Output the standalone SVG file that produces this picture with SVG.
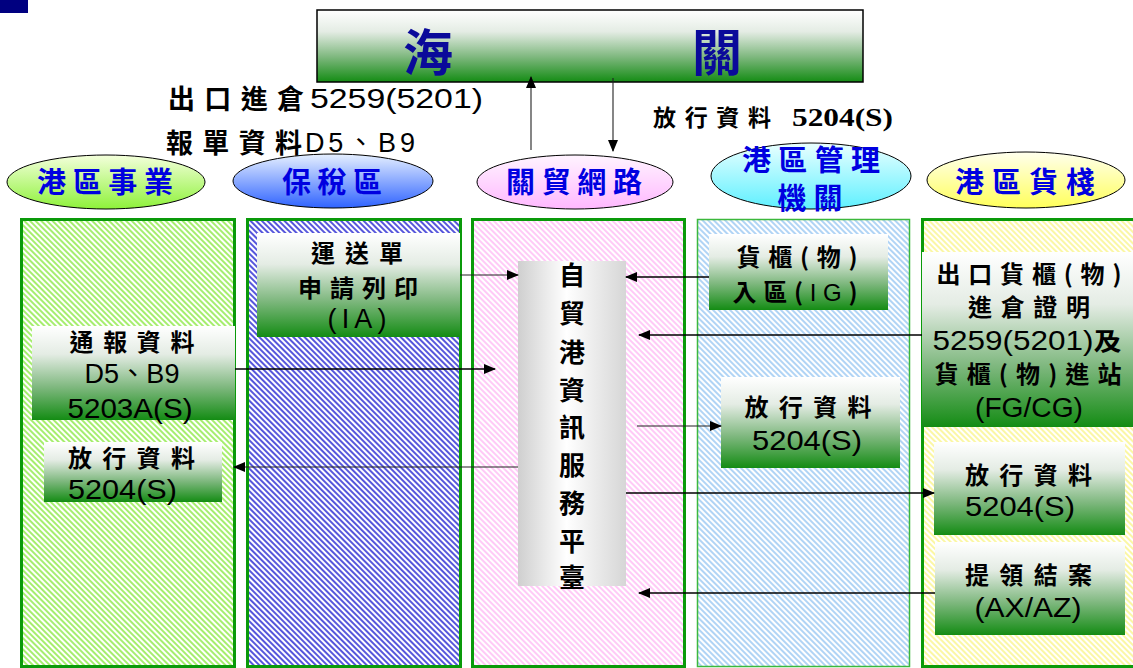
<svg xmlns="http://www.w3.org/2000/svg" width="1133" height="668" viewBox="0 0 1133 668">
<style>
.zh{font-family:"Noto Sans CJK TC","Noto Sans CJK SC",sans-serif;font-weight:700;fill:#000}
.bx{font-family:"Noto Sans CJK TC","Noto Sans CJK SC",sans-serif;font-weight:700;font-size:24px;fill:#000}
.num{font-family:"Liberation Sans","Noto Sans CJK TC",sans-serif;font-weight:400;font-size:27px;fill:#000}
.el{font-family:"Noto Sans CJK TC","Noto Sans CJK SC",sans-serif;font-weight:700;font-size:29px;fill:#0000e0}
.ttl{font-family:"Noto Sans CJK TC","Noto Sans CJK SC",sans-serif;font-weight:700;font-size:50px;fill:#0a0a9a}
.c{stroke:#000;stroke-width:1.6;fill:none}
.ct{stroke:#222;stroke-width:1.1;fill:none}
</style>
<defs>
<linearGradient id="gb" x1="0" y1="0" x2="0" y2="1">
<stop offset="0" stop-color="#ffffff"/><stop offset="0.3" stop-color="#e4ece4"/><stop offset="0.65" stop-color="#7fb87f"/><stop offset="1" stop-color="#148c14"/>
</linearGradient>
<linearGradient id="gp" x1="0" y1="0" x2="1" y2="0">
<stop offset="0" stop-color="#cfcfcf"/><stop offset="0.45" stop-color="#ffffff"/><stop offset="1" stop-color="#d6d6d6"/>
</linearGradient>
<linearGradient id="e1" x1="0" y1="0" x2="0" y2="1"><stop offset="0" stop-color="#f4ffdc"/><stop offset="1" stop-color="#8ef23a"/></linearGradient>
<linearGradient id="e2" x1="0" y1="0" x2="0" y2="1"><stop offset="0" stop-color="#e6f0ff"/><stop offset="1" stop-color="#2f63ff"/></linearGradient>
<linearGradient id="e3" x1="0" y1="0" x2="0" y2="1"><stop offset="0" stop-color="#fff4ff"/><stop offset="1" stop-color="#ffb8ff"/></linearGradient>
<linearGradient id="e4" x1="0" y1="0" x2="0" y2="1"><stop offset="0" stop-color="#eaffff"/><stop offset="1" stop-color="#5ef0ff"/></linearGradient>
<linearGradient id="e5" x1="0" y1="0" x2="0" y2="1"><stop offset="0" stop-color="#ffffee"/><stop offset="1" stop-color="#ffff5a"/></linearGradient>
<pattern id="h1" width="4" height="4" patternUnits="userSpaceOnUse" patternTransform="rotate(-45)"><rect width="4" height="4" fill="#fff"/><line x1="1" y1="0" x2="1" y2="4" stroke="#a6ee6e" stroke-width="2"/></pattern>
<pattern id="h2" width="4" height="4" patternUnits="userSpaceOnUse" patternTransform="rotate(-45)"><rect width="4" height="4" fill="#fff"/><line x1="1" y1="0" x2="1" y2="4" stroke="#4444d8" stroke-width="1.8"/></pattern>
<pattern id="h3" width="4" height="4" patternUnits="userSpaceOnUse" patternTransform="rotate(-45)"><rect width="4" height="4" fill="#fff"/><line x1="1" y1="0" x2="1" y2="4" stroke="#ffbdf5" stroke-width="1.6"/></pattern>
<pattern id="h4" width="4" height="4" patternUnits="userSpaceOnUse" patternTransform="rotate(-45)"><rect width="4" height="4" fill="#fff"/><line x1="1" y1="0" x2="1" y2="4" stroke="#a8d0f4" stroke-width="1.8"/></pattern>
<pattern id="h5" width="4" height="4" patternUnits="userSpaceOnUse" patternTransform="rotate(-45)"><rect width="4" height="4" fill="#fff"/><line x1="1" y1="0" x2="1" y2="4" stroke="#fbf79a" stroke-width="1.8"/></pattern>
<marker id="ah" markerWidth="12" markerHeight="10" refX="11" refY="5" orient="auto" markerUnits="userSpaceOnUse"><path d="M0,0 L12,5 L0,10 Z" fill="#000"/></marker>
</defs>

<rect x="0" y="0" width="28" height="13" fill="#000080"/>

<g id="customs">
<rect x="317" y="10" width="546" height="72" fill="url(#gb)" stroke="#000" stroke-width="1.5"/>
<text class="ttl" x="403" y="71">海</text>
<text class="ttl" x="692" y="71">關</text>
</g>

<g id="labels-top">
<text class="zh" x="168" y="109" font-size="27" textLength="136" lengthAdjust="spacing">出口進倉</text>
<text class="num" x="310" y="108" font-size="28" textLength="173" lengthAdjust="spacingAndGlyphs">5259(5201)</text>
<text class="zh" x="166" y="153" font-size="27" textLength="136" lengthAdjust="spacing">報單資料</text>
<text class="num" x="305" y="152" font-size="28" textLength="110" lengthAdjust="spacing">D5、B9</text>
<text class="zh" x="653" y="126" font-size="23" textLength="118" lengthAdjust="spacing">放行資料</text>
<text x="792" y="126" font-family="Liberation Serif" font-weight="700" font-size="25" textLength="101" lengthAdjust="spacingAndGlyphs">5204(S)</text>
</g>

<g id="panels">
<rect x="21.5" y="219.5" width="213" height="447" fill="url(#h1)" stroke="#0a9a0a" stroke-width="3"/>
<rect x="247.5" y="219.5" width="213" height="447" fill="url(#h2)" stroke="#0a9a0a" stroke-width="3"/>
<rect x="472.5" y="219.5" width="212" height="447" fill="url(#h3)" stroke="#0a9a0a" stroke-width="3"/>
<rect x="697.5" y="219.5" width="212" height="447" fill="url(#h4)" stroke="#3cb83c" stroke-width="1.5"/>
<rect x="922.5" y="219.5" width="215" height="447" fill="url(#h5)" stroke="#0a9a0a" stroke-width="3"/>
</g>

<g id="ellipse-1"><ellipse cx="106" cy="182" rx="99" ry="27" fill="url(#e1)" stroke="#000" stroke-width="1"/>
<text class="el" x="105" y="193" text-anchor="middle" textLength="136" lengthAdjust="spacing">港區事業</text></g>
<g id="ellipse-2"><ellipse cx="333" cy="181" rx="100" ry="27" fill="url(#e2)" stroke="#000" stroke-width="1"/>
<text class="el" x="332" y="193" text-anchor="middle" textLength="100" lengthAdjust="spacing">保稅區</text></g>
<g id="ellipse-3"><ellipse cx="575" cy="182" rx="98" ry="27" fill="url(#e3)" stroke="#000" stroke-width="1"/>
<text class="el" x="574" y="193" text-anchor="middle" textLength="136" lengthAdjust="spacing">關貿網路</text></g>
<g id="ellipse-4"><ellipse cx="811" cy="176" rx="100" ry="33" fill="url(#e4)" stroke="#000" stroke-width="1"/>
<text class="el" x="811" y="171" font-size="26" text-anchor="middle" textLength="138" lengthAdjust="spacing">港區管理</text>
<text class="el" x="810" y="209" font-size="26" text-anchor="middle" textLength="65" lengthAdjust="spacing">機關</text></g>
<g id="ellipse-5"><ellipse cx="1026" cy="180" rx="99" ry="28" fill="url(#e5)" stroke="#000" stroke-width="1"/>
<text class="el" x="1025" y="193" text-anchor="middle" textLength="140" lengthAdjust="spacing">港區貨棧</text></g>

<g id="box-ia">
<rect x="257" y="233" width="203" height="104" fill="url(#gb)"/>
<text class="bx" x="357" y="262" text-anchor="middle" textLength="92" lengthAdjust="spacing">運送單</text>
<text class="bx" x="358" y="297" text-anchor="middle" textLength="120" lengthAdjust="spacing">申請列印</text>
<text class="num" x="357" y="328" text-anchor="middle" textLength="59" lengthAdjust="spacing">(IA)</text>
</g>

<g id="box-notify">
<rect x="32" y="326" width="203" height="94" fill="url(#gb)"/>
<text class="bx" x="132" y="351" text-anchor="middle" textLength="125" lengthAdjust="spacing">通報資料</text>
<text class="num" x="132" y="383" text-anchor="middle" textLength="95" lengthAdjust="spacing">D5、B9</text>
<text class="num" x="130" y="418" text-anchor="middle" textLength="125" lengthAdjust="spacingAndGlyphs">5203A(S)</text>
</g>

<g id="box-release-left">
<rect x="44" y="442" width="178" height="60" fill="url(#gb)"/>
<text class="bx" x="68" y="467" textLength="127" lengthAdjust="spacing">放行資料</text>
<text class="num" x="68" y="499" textLength="109" lengthAdjust="spacingAndGlyphs">5204(S)</text>
</g>

<g id="platform">
<rect x="518" y="261" width="108" height="325" fill="url(#gp)"/>
<g class="zh" font-size="26" text-anchor="middle">
<text x="572" y="285">自</text>
<text x="572" y="323">貿</text>
<text x="572" y="362">港</text>
<text x="572" y="400">資</text>
<text x="572" y="437">訊</text>
<text x="572" y="475">服</text>
<text x="572" y="513">務</text>
<text x="572" y="551">平</text>
<text x="572" y="587">臺</text>
</g>
</g>

<g id="box-ig">
<rect x="709" y="234" width="179" height="76" fill="url(#gb)"/>
<text class="bx" x="797" y="266" text-anchor="middle" textLength="121" lengthAdjust="spacing">貨櫃(物)</text>
<text class="bx" x="795" y="301" text-anchor="middle" textLength="125" lengthAdjust="spacing">入區(<tspan font-family="Liberation Sans" font-weight="400">IG</tspan>)</text>
</g>

<g id="box-release-mid">
<rect x="721" y="377" width="179" height="91" fill="url(#gb)"/>
<text class="bx" x="808" y="416" text-anchor="middle" textLength="127" lengthAdjust="spacing">放行資料</text>
<text class="num" x="807" y="450" text-anchor="middle" textLength="110" lengthAdjust="spacingAndGlyphs">5204(S)</text>
</g>

<g id="box-export">
<rect x="922" y="252" width="211" height="175" fill="url(#gb)"/>
<text class="bx" x="1029" y="283" text-anchor="middle" textLength="185" lengthAdjust="spacing">出口貨櫃(物)</text>
<text class="bx" x="1029" y="316" text-anchor="middle" textLength="122" lengthAdjust="spacing">進倉證明</text>
<text class="bx" x="1027" y="350" text-anchor="middle" textLength="189" lengthAdjust="spacingAndGlyphs"><tspan class="num" font-size="27">5259(5201)</tspan>及</text>
<text class="bx" x="1028" y="383" text-anchor="middle" textLength="187" lengthAdjust="spacing">貨櫃(物)進站</text>
<text class="num" x="1029" y="417" text-anchor="middle" textLength="108" lengthAdjust="spacingAndGlyphs">(FG/CG)</text>
</g>

<g id="box-release-right">
<rect x="934" y="442" width="191" height="93" fill="url(#gb)"/>
<text class="bx" x="965" y="484" textLength="127" lengthAdjust="spacing">放行資料</text>
<text class="num" x="965" y="516" textLength="110" lengthAdjust="spacingAndGlyphs">5204(S)</text>
</g>

<g id="box-close">
<rect x="935" y="542" width="190" height="93" fill="url(#gb)"/>
<text class="bx" x="965" y="584" textLength="127" lengthAdjust="spacing">提領結案</text>
<text class="num" x="1028" y="617" text-anchor="middle" textLength="107" lengthAdjust="spacingAndGlyphs">(AX/AZ)</text>
</g>

<g id="connectors">
<line class="ct" x1="531" y1="150" x2="531" y2="77" marker-end="url(#ah)"/>
<line class="ct" x1="613" y1="78" x2="613" y2="151" marker-end="url(#ah)"/>
<line class="ct" x1="460" y1="275" x2="518" y2="275" marker-end="url(#ah)"/>
<line class="c" x1="709" y1="277" x2="626" y2="277" marker-end="url(#ah)"/>
<line class="c" x1="922" y1="335" x2="639" y2="335" marker-end="url(#ah)"/>
<line class="c" x1="235" y1="369" x2="495" y2="369" marker-end="url(#ah)"/>
<line class="ct" x1="637" y1="426" x2="721" y2="426" marker-end="url(#ah)"/>
<line class="ct" x1="518" y1="467" x2="234" y2="467" marker-end="url(#ah)"/>
<line class="c" x1="626" y1="493" x2="934" y2="493" marker-end="url(#ah)"/>
<line class="c" x1="935" y1="593" x2="639" y2="593" marker-end="url(#ah)"/>
</g>
</svg>
